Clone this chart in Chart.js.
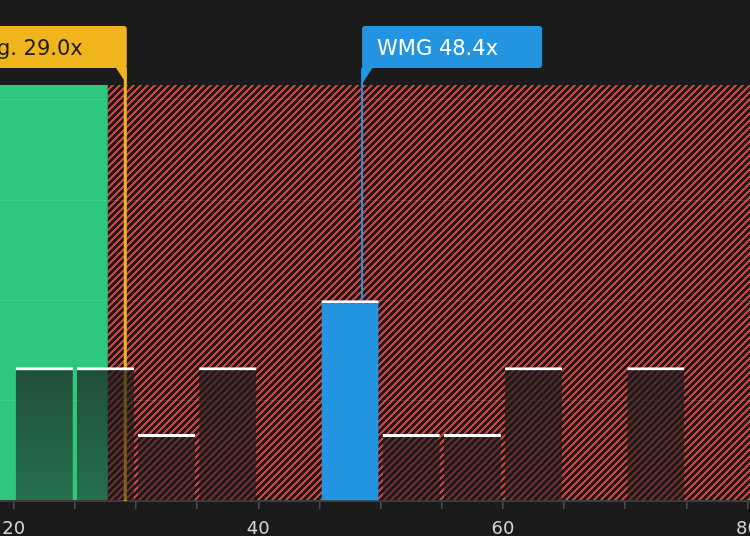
<!DOCTYPE html>
<html>
<head>
<meta charset="utf-8">
<script src="https://cdn.jsdelivr.net/npm/chart.js"></script>
<style>
  html,body{margin:0;padding:0;background:#1b1b1b;overflow:hidden}
  #wrap{width:750px;height:536px}
</style>
</head>
<body>
<div id="wrap"><canvas id="peChart"></canvas></div>
<script>
// histogram of peer P/E ratios (bin start, count)
const binStarts = [20, 25, 30, 35, 45, 50, 55, 60, 70];
const binCounts = [2, 2, 1, 2, 3, 1, 1, 2, 2];
const binWidth = 5;
const companyName = 'WMG';
const companyPE = 48.4;
const industryLabel = 'Industry Avg.';
const industryAvgPE = 29.0;
const fairPE = 27.7;          // green / red split
const xTickLabels = [20, 40, 60, 80];
const xMin = 18.88, xMax = 80.2, yMax = 6.22;

const BG = '#1b1b1b', GREEN = '#2ec77e', RED = '#d4403f';
const ORANGE = '#f0b41c', BLUE = '#2394e0';
const FONT = '"DejaVu Sans", "Noto Sans", sans-serif';
const companyBin = binStarts.findIndex(s => companyPE >= s && companyPE < s + binWidth);

// crisp "/" stripes, pixel by pixel
function hatchPattern(ctx){
  const n = 7, c = document.createElement('canvas');
  c.width = c.height = n;
  const g = c.getContext('2d');
  g.fillStyle = BG; g.fillRect(0, 0, n, n);
  g.fillStyle = RED;
  for (let y = 0; y < n; y++)
    for (let x = 0; x < n; x++)
      if ((x + y) % n < 3) g.fillRect(x, y, 1, 1);
  return ctx.createPattern(c, 'repeat');
}

const TAG_TOP = 26, TAG_H = 42, TAIL = 17;
function tag(ctx, lx, text, fill, color, toRight){
  ctx.save();
  ctx.font = '21px ' + FONT;
  const w = ctx.measureText(text).width + 15 + 44;
  const left = toRight ? lx : lx + 1.5 - w;
  ctx.fillStyle = fill;
  ctx.beginPath();
  ctx.roundRect(left, TAG_TOP, w, TAG_H, 3);
  ctx.fill();
  ctx.beginPath();
  const b = TAG_TOP + TAG_H - 1;
  if (toRight){ ctx.moveTo(lx, b); ctx.lineTo(lx + 11, b); ctx.lineTo(lx, b + TAIL); }
  else { ctx.moveTo(lx + 1.5, b); ctx.lineTo(lx - 10, b); ctx.lineTo(lx + 1.5, b + TAIL); }
  ctx.fill();
  ctx.fillStyle = color;
  ctx.textBaseline = 'middle';
  ctx.fillText(text, left + 15, TAG_TOP + TAG_H / 2 + 2.5);
  ctx.restore();
}

const peDecor = {
  id: 'peDecor',
  beforeDraw(chart){
    const {ctx, chartArea: a, scales: {x}} = chart;
    ctx.save();
    ctx.fillStyle = BG; ctx.fillRect(0, 0, chart.width, chart.height);
    const fx = x.getPixelForValue(fairPE);
    ctx.fillStyle = GREEN; ctx.fillRect(a.left, a.top, fx - a.left, a.bottom - a.top);
    ctx.fillStyle = hatchPattern(ctx); ctx.fillRect(fx, a.top, a.right - fx, a.bottom - a.top);
    ctx.restore();
  },
  beforeDatasetsDraw(chart){
    const {ctx, chartArea: a, scales: {x}} = chart;
    const ix = x.getPixelForValue(industryAvgPE) + 1.5;
    ctx.save();
    ctx.strokeStyle = ORANGE; ctx.lineWidth = 3;
    ctx.beginPath(); ctx.moveTo(ix, TAG_TOP + TAG_H); ctx.lineTo(ix, a.bottom); ctx.stroke();
    ctx.restore();
  },
  afterDatasetsDraw(chart){
    const {ctx, scales: {x, y}} = chart;
    const cx = x.getPixelForValue(companyPE) + 1;
    ctx.save();
    ctx.strokeStyle = BLUE; ctx.lineWidth = 2;
    ctx.beginPath(); ctx.moveTo(cx, TAG_TOP + TAG_H); ctx.lineTo(cx, y.getPixelForValue(binCounts[companyBin])); ctx.stroke();
    ctx.restore();
    tag(ctx, x.getPixelForValue(industryAvgPE) + 1.5, industryLabel + ' ' + industryAvgPE.toFixed(1) + 'x', ORANGE, '#1e1e1e', false);
    tag(ctx, cx, companyName + ' ' + companyPE.toFixed(1) + 'x', BLUE, '#ffffff', true);
  }
};

new Chart(document.getElementById('peChart'), {
  type: 'bar',
  data: {
    datasets: [{
      data: binStarts.map((s, i) => ({x: s + binWidth / 2, y: binCounts[i]})),
      backgroundColor(c){
        if (c.dataIndex === companyBin) return BLUE;
        const a = c.chart.chartArea;
        if (!a) return 'rgba(27,27,27,0.7)';
        const top = c.chart.scales.y.getPixelForValue(Math.max(...binCounts));
        const g = c.chart.ctx.createLinearGradient(0, top, 0, a.bottom);
        g.addColorStop(0, 'rgba(27,27,27,0.8)');
        g.addColorStop(1, 'rgba(27,27,27,0.5)');
        return g;
      },
      borderColor: '#ffffff',
      borderWidth: {top: 3, left: 0, right: 0, bottom: 0},
      categoryPercentage: 1,
      barPercentage: 0.935
    }]
  },
  options: {
    responsive: true,
    maintainAspectRatio: false,
    animation: false,
    layout: {padding: {top: 85, left: 0, right: 0, bottom: 0}},
    plugins: {legend: {display: false}, tooltip: {enabled: false}},
    scales: {
      x: {
        type: 'linear', min: xMin, max: xMax, offset: false,
        afterFit(s){ s.paddingLeft = 0; s.paddingRight = 0; s.height = 35; },
        ticks: {
          stepSize: 5, includeBounds: false, autoSkip: false, maxRotation: 0, padding: 10,
          color: '#d4d4d4', font: {family: FONT, size: 18},
          callback: v => xTickLabels.includes(v) ? String(v) : ''
        },
        grid: {offset: false, drawOnChartArea: false, color: '#4d4d4d', tickLength: 8, lineWidth: 1.5},
        border: {color: '#3d3d3d', width: 2}
      },
      y: {
        min: 0, max: yMax,
        ticks: {display: false, stepSize: 1.5, includeBounds: false},
        grid: {drawTicks: false, color: 'rgba(255,255,255,0.09)'},
        border: {display: false}
      }
    }
  },
  plugins: [peDecor]
});
</script>
</body>
</html>
